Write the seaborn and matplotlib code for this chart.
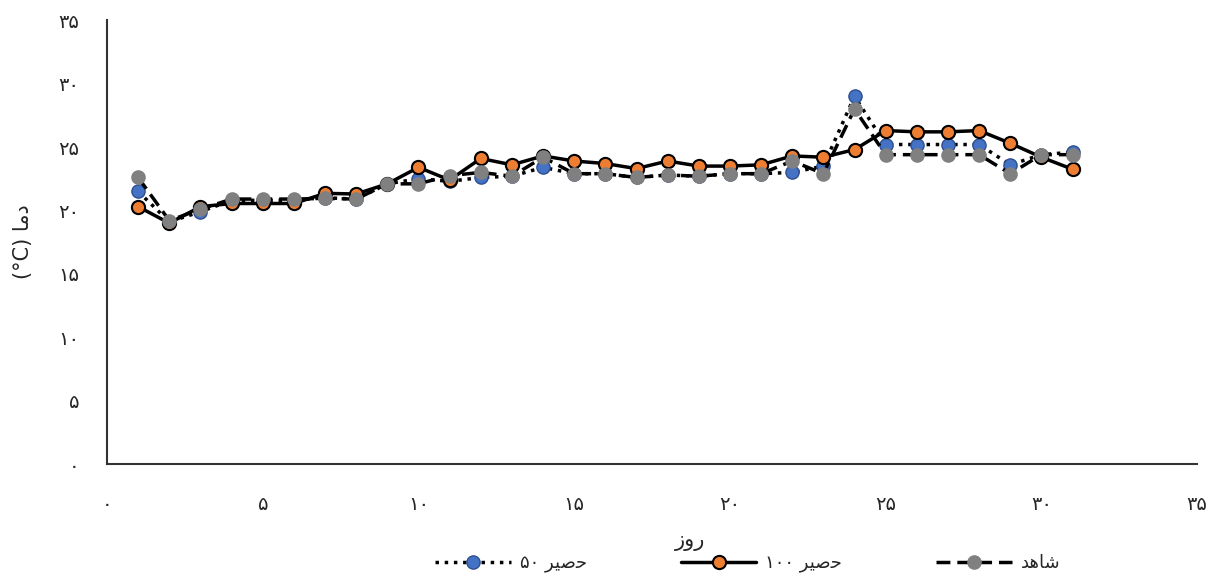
import pandas as pd
import numpy as np
import matplotlib
matplotlib.use("Agg")
import matplotlib.pyplot as plt
import seaborn as sns

# days and temperatures
days = list(range(1, 32))

hasir50 = [21.5, 19.1, 19.9, 20.8, 20.8, 20.8, 21.0, 20.9, 22.1, 22.5, 22.3,
           22.6, 22.7, 23.4, 22.9, 22.9, 22.6, 22.8, 22.7, 22.9, 22.9, 23.0,
           23.5, 29.0, 25.2, 25.2, 25.2, 25.2, 23.6, 24.4, 24.6]

hasir100 = [20.3, 19.0, 20.3, 20.55, 20.55, 20.55, 21.35, 21.3, 22.1, 23.4, 22.4,
            24.1, 23.6, 24.3, 23.9, 23.7, 23.3, 23.9, 23.5, 23.5, 23.6, 24.3,
            24.2, 24.8, 26.3, 26.2, 26.2, 26.3, 25.3, 24.2, 23.25]

shahed = [22.6, 19.2, 20.1, 20.9, 20.9, 20.9, 20.95, 20.9, 22.1, 22.1, 22.75,
          23.0, 22.7, 24.2, 22.9, 22.9, 22.6, 22.8, 22.7, 22.9, 22.9, 23.9,
          22.9, 28.0, 24.4, 24.4, 24.4, 24.4, 22.9, 24.4, 24.4]

# Persian text, letters given in display order (presentation forms)
hasir = "\uFEAE\uFEF4\uFEBB\uFEA3"
label50 = "\u06F5\u06F0 " + hasir
label100 = "\u06F1\u06F0\u06F0 " + hasir
label_shahed = "\uFEAA\uFEEB\uFE8E\uFEB7"
xlabel = "\u0632\u0648\u0631"
ylabel = "(\u00B0C) \uFE8E\uFEE3\u062F"

tick_values = [0, 5, 10, 15, 20, 25, 30, 35]
tick_labels = ["\u06F0", "\u06F5", "\u06F1\u06F0", "\u06F1\u06F5",
               "\u06F2\u06F0", "\u06F2\u06F5", "\u06F3\u06F0", "\u06F3\u06F5"]

sns.set_style("white")
plt.rcParams["font.family"] = ["DejaVu Sans"]

fig = plt.figure(figsize=(12.08, 5.78), dpi=100)
ax = fig.add_axes([0.0886, 0.197, 0.9024, 0.768])

df = pd.DataFrame({"day": days, "h50": hasir50, "h100": hasir100, "sh": shahed})

sns.lineplot(data=df, x="day", y="h50", ax=ax, color="black", linestyle=":",
             linewidth=2.5, marker="o", markersize=9.5, markerfacecolor="#4472C4",
             markeredgecolor="#2F4F8F", markeredgewidth=1, label=label50)
sns.lineplot(data=df, x="day", y="h100", ax=ax, color="black", linestyle="-",
             linewidth=2.5, marker="o", markersize=9.5, markerfacecolor="#ED7D31",
             markeredgecolor="black", markeredgewidth=1.5, label=label100)
sns.lineplot(data=df, x="day", y="sh", ax=ax, color="black", linestyle=(0, (4, 2)),
             linewidth=2.5, marker="o", markersize=9.5, markerfacecolor="#808080",
             markeredgecolor="#808080", markeredgewidth=1, label=label_shahed)

ax.set_xlim(0, 35)
ax.set_ylim(0, 35)
ax.set_xticks(tick_values)
ax.set_xticklabels(tick_labels, fontsize=14)
ax.set_yticks(tick_values)
ax.set_yticklabels(tick_labels, fontsize=14)
ax.tick_params(axis="x", length=0, pad=22)
ax.tick_params(axis="y", length=0, pad=20)

for side in ["top", "right"]:
    ax.spines[side].set_visible(False)
for side in ["left", "bottom"]:
    ax.spines[side].set_color("#333333")
    ax.spines[side].set_linewidth(1.5)

ax.set_xlabel(xlabel, fontsize=15)
ax.xaxis.set_label_coords(0.535, -0.15)
ax.set_ylabel(ylabel, fontsize=15)
ax.yaxis.set_label_coords(-0.068, 0.5)

handles, labels = ax.get_legend_handles_labels()
ax.get_legend().remove()
fig.legend(handles, labels, loc="center", bbox_to_anchor=(0.619, 0.025), ncol=3,
           frameon=False, fontsize=13, handlelength=4.2, columnspacing=5.2,
           handletextpad=0.5)

fig.savefig("out.png", dpi=100)
